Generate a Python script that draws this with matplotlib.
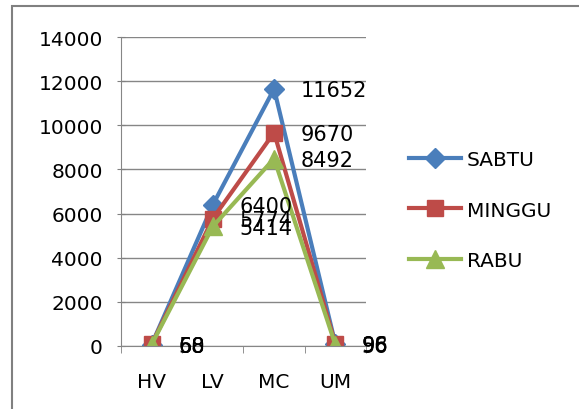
import matplotlib.pyplot as plt
from matplotlib.patches import Rectangle

plt.rcParams['font.family'] = ['DejaVu Sans']

categories = ['HV', 'LV', 'MC', 'UM']
sabtu = [58, 6400, 11652, 96]
minggu = [68, 5774, 9670, 98]
rabu = [60, 5414, 8492, 56]
yticks = [0, 2000, 4000, 6000, 8000, 10000, 12000, 14000]

fig = plt.figure(figsize=(5.79, 4.10), dpi=100)
fig.patches.append(Rectangle((0.021, -0.1), 1.1, 1.083, transform=fig.transFigure,
                             fill=False, edgecolor='#808080', linewidth=1.5))
ax = fig.add_axes([0.209, 0.154, 0.423, 0.753])

x = range(len(categories))
series = [
    ('SABTU', sabtu, '#4a7ebb', 'D', 10),
    ('MINGGU', minggu, '#be4b48', 's', 12),
    ('RABU', rabu, '#98b954', '^', 13),
]
for name, vals, col, mk, ms in series:
    ax.plot(x, vals, color=col, marker=mk, markersize=ms, linewidth=3, label=name)
    for xi, v in zip(x, vals):
        ax.annotate(str(v), (xi, v), xytext=(19, -1), textcoords='offset points',
                    fontsize=15, color='black', va='center')

ax.set_xlim(-0.5, 3.5)
ax.set_ylim(0, 14000)
ax.set_yticks(yticks)
ax.set_xticks(list(x))
ax.set_xticklabels(categories)
ax.set_xticks([-0.5, 0.5, 1.5, 2.5, 3.5], minor=True)
ax.tick_params(axis='x', which='major', length=0, labelsize=14.5, pad=19)
ax.tick_params(axis='x', which='minor', length=5, color='#808080')
ax.tick_params(axis='y', length=6, direction='inout', color='#808080',
               labelsize=14.5, pad=10)
ax.grid(axis='y', color='#868686', linewidth=1)
ax.set_axisbelow(True)
for s in ['top', 'right']:
    ax.spines[s].set_visible(False)
ax.spines['left'].set_color('#868686')
ax.spines['bottom'].set_color('#868686')

ax.legend(loc='center left', bbox_to_anchor=(1.10, 0.44), frameon=False,
          fontsize=14.5, labelspacing=1.55, handlelength=2.6, handletextpad=0.3)

fig.savefig('out.png', dpi=100)
